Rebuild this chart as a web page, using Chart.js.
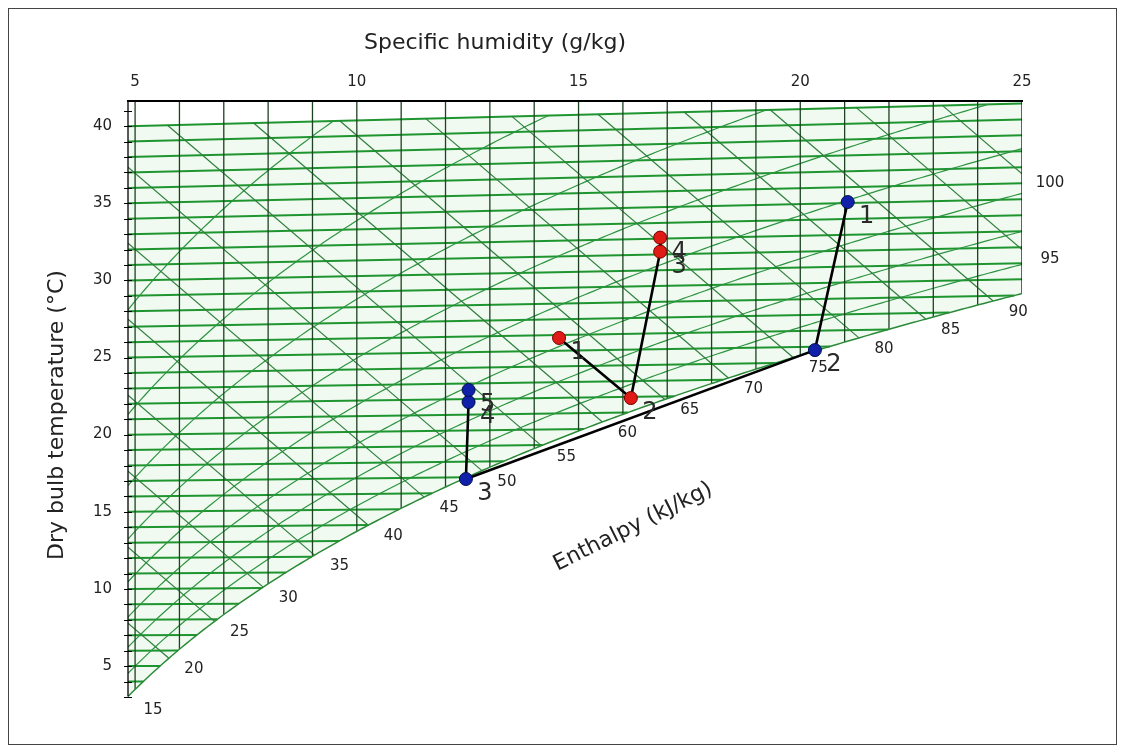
<!DOCTYPE html>
<html>
<head>
<meta charset="utf-8">
<script src="https://cdn.jsdelivr.net/npm/chart.js@4/dist/chart.umd.min.js"></script>
<style>
  html, body { margin: 0; padding: 0; background: #fff; }
  canvas { display: block; }
</style>
</head>
<body>
<canvas id="chart" width="1125" height="753"></canvas>
<script>
// axis ticks
const humidityTicks = [5, 10, 15, 20, 25];
const temperatureTicks = [5, 10, 15, 20, 25, 30, 35, 40];

// chart grid levels
const isothermLevels = [3, 4, 5, 6, 7, 8, 9, 10, 11, 12, 13, 14, 15, 16, 17, 18, 19, 20, 21, 22,
  23, 24, 25, 26, 27, 28, 29, 30, 31, 32, 33, 34, 35, 36, 37, 38, 39, 40];
const humidityLines = [5, 6, 7, 8, 9, 10, 11, 12, 13, 14, 15, 16, 17, 18, 19, 20, 21, 22, 23, 24, 25];
const enthalpyLevels = [15, 20, 25, 30, 35, 40, 45, 50, 55, 60, 65, 70, 75, 80, 85, 90, 95, 100];
const rhLevels = [20, 30, 40, 50, 60, 70, 80, 90];

// process 1 (blue) - humidity g/kg, dry bulb °C
const blueNames = ['1', '2', '3', '4', '5'];
const blueHumidity = [21.07, 20.33, 12.46, 12.52, 12.52];
const blueTemp = [34.07, 24.78, 16.89, 21.81, 22.58];

// process 2 (red)
const redNames = ['1', '2', '3', '4'];
const redHumidity = [14.56, 16.18, 16.84, 16.84];
const redTemp = [25.81, 21.92, 31.18, 32.07];

const W_MIN = 4.84, W_MAX = 25;
const Y_MIN = 2.8, Y_MAX = 41.62;
const T_TOP = 40;
const PRESSURE = 98300; // Pa
const Y_REF = 1.006 + 0.00186 * 5;

function psat(t) { return 610.94 * Math.exp(17.625 * t / (t + 243.04)); }
function tFromPs(ps) { const L = Math.log(ps / 610.94); return 243.04 * L / (17.625 - L); }
function wFromPv(pv) { return 622 * pv / (PRESSURE - pv); }
function pvFromW(w) { return w * PRESSURE / (622 + w); }
function yOf(t, w) { return t * (1.006 + 0.00186 * w) / Y_REF; }   // skewed Mollier ordinate
function yOfH(h, w) { return (h - 2.501 * w) / Y_REF; }
function hOf(t, w) { return 1.006 * t + w * (2.501 + 0.00186 * t); }
function tSat(w) { return tFromPs(pvFromW(w)); }
function hSat(w) { return hOf(tSat(w), w); }

function sampleW(from, to, step) {
  const ws = [];
  for (let w = from; w < to - 1e-6; w += step) ws.push(w);
  ws.push(to);
  return ws;
}

function enthalpyEnd(h) {
  if (hSat(W_MAX) <= h) return W_MAX;
  let lo = W_MIN, hi = W_MAX;
  if (hSat(lo) >= h) return W_MIN;
  for (let i = 0; i < 50; i++) {
    const mid = (lo + hi) / 2;
    if (hSat(mid) < h) lo = mid; else hi = mid;
  }
  return (lo + hi) / 2;
}
function enthalpyStart(h) {
  return Math.max(W_MIN, (h - 1.006 * T_TOP) / (2.501 + 0.00186 * T_TOP));
}

function rhCurve(rh) {
  const phi = rh / 100;
  const wEnd = Math.min(W_MAX, wFromPv(phi * psat(T_TOP)));
  if (wEnd <= W_MIN) return null;
  return sampleW(W_MIN, wEnd, 0.1).map(w => ({ x: w, y: yOf(tFromPs(pvFromW(w) / phi), w) }));
}

const lineDs = (data, color, width, order) => ({
  data, borderColor: color, borderWidth: width, pointRadius: 0,
  fill: false, tension: 0, order
});

const datasets = [];

// 0: saturation curve, 1: top isotherm filled down to it
const satCurve = sampleW(W_MIN, W_MAX, 0.1).map(w => ({ x: w, y: yOf(tSat(w), w) }));
datasets.push(lineDs(satCurve, '#2a8a38', 1.5, 5));
datasets.push({
  data: [{ x: W_MIN, y: yOf(T_TOP, W_MIN) }, { x: W_MAX, y: yOf(T_TOP, W_MAX) }],
  borderWidth: 0, pointRadius: 0, fill: 0, backgroundColor: '#f0faf0', order: 20
});

isothermLevels.forEach(t => {
  const wEnd = Math.min(W_MAX, wFromPv(psat(t)));
  if (wEnd <= W_MIN) return;
  datasets.push(lineDs([{ x: W_MIN, y: yOf(t, W_MIN) }, { x: wEnd, y: yOf(t, wEnd) }], '#1f9530', 2, 8));
});

enthalpyLevels.forEach(h => {
  const w0 = enthalpyStart(h), w1 = enthalpyEnd(h);
  if (w0 >= w1) return;
  datasets.push(lineDs([{ x: w0, y: yOfH(h, w0) }, { x: w1, y: yOfH(h, w1) }], '#2f7f3c', 1.2, 7));
});

rhLevels.forEach(rh => {
  const pts = rhCurve(rh);
  if (pts) datasets.push(lineDs(pts, '#2c9440', 1.2, 7));
});

humidityLines.forEach(w => {
  datasets.push(lineDs([{ x: w, y: yOf(tSat(w), w) }, { x: w, y: Y_MAX }], w === W_MAX ? '#111' : '#1d4222', 1.3, 6));
});

const blueIndex = datasets.length;
datasets.push({
  data: blueHumidity.map((w, i) => ({ x: w, y: yOf(blueTemp[i], w) })),
  borderColor: '#000', borderWidth: 2.6, tension: 0, fill: false,
  pointRadius: 6.5, pointBackgroundColor: '#1020a8', pointBorderColor: '#00104a', pointBorderWidth: 1, order: 0
});
const redIndex = datasets.length;
datasets.push({
  data: redHumidity.map((w, i) => ({ x: w, y: yOf(redTemp[i], w) })),
  borderColor: '#000', borderWidth: 2.6, tension: 0, fill: false,
  pointRadius: 6.5, pointBackgroundColor: '#e01a14', pointBorderColor: '#7a0000', pointBorderWidth: 1, order: 0
});

const FONT = "'DejaVu Sans', Verdana, sans-serif";

const decor = {
  id: 'decor',
  afterDraw(chart) {
    const { ctx, chartArea: a, scales: { x, y } } = chart;
    const px = w => x.getPixelForValue(w);
    const py = v => y.getPixelForValue(v);
    ctx.save();

    // outer frame
    ctx.strokeStyle = '#444';
    ctx.lineWidth = 1;
    ctx.strokeRect(8.5, 8.5, 1108, 736);

    // axes lines
    ctx.strokeStyle = '#000';
    ctx.lineWidth = 2;
    ctx.beginPath();
    ctx.moveTo(a.left - 1, a.top);
    ctx.lineTo(a.right + 1, a.top);
    ctx.stroke();
    ctx.lineWidth = 1.3;
    ctx.beginPath();
    ctx.moveTo(a.left, a.top);
    ctx.lineTo(a.left, py(yOf(tSat(W_MIN), W_MIN)));
    ctx.stroke();

    // minor ticks every degree
    ctx.lineWidth = 1;
    for (let t = 3; t <= 41; t++) {
      const yy = Math.round(py(yOf(t, W_MIN))) + 0.5;
      ctx.beginPath();
      ctx.moveTo(a.left - 4, yy);
      ctx.lineTo(a.left + 4, yy);
      ctx.stroke();
    }

    // enthalpy labels
    ctx.fillStyle = '#222';
    ctx.font = '15px ' + FONT;
    ctx.textAlign = 'center';
    ctx.textBaseline = 'middle';
    enthalpyLevels.forEach(h => {
      const w1 = enthalpyEnd(h);
      const onRight = hSat(W_MAX) <= h;
      const dx = onRight ? 28 : 25, dy = onRight ? 9 : 11;
      ctx.fillText(String(h), px(w1) + dx, py(yOfH(h, w1)) + dy);
    });

    // titles
    ctx.font = '22px ' + FONT;
    ctx.fillText('Specific humidity (g/kg)', 495, 43);
    ctx.save();
    ctx.translate(57, 415);
    ctx.rotate(-Math.PI / 2);
    ctx.fillText('Dry bulb temperature (°C)', 0, 0);
    ctx.restore();
    ctx.save();
    ctx.translate(633, 527);
    ctx.rotate(-26.5 * Math.PI / 180);
    ctx.fillText('Enthalpy (kJ/kg)', 0, 0);
    ctx.restore();

    // point numbers
    ctx.font = '24px ' + FONT;
    ctx.fillStyle = '#2a2a2a';
    [[blueIndex, blueNames], [redIndex, redNames]].forEach(([idx, names]) => {
      chart.getDatasetMeta(idx).data.forEach((pt, i) => {
        ctx.fillText(names[i], pt.x + 19, pt.y + 15);
      });
    });
    ctx.restore();
  }
};

new Chart(document.getElementById('chart'), {
  type: 'line',
  data: { datasets },
  options: {
    responsive: false,
    animation: false,
    devicePixelRatio: 1,
    layout: { padding: { left: 0, top: 0, right: 103, bottom: 53 } },
    plugins: { legend: { display: false }, tooltip: { enabled: false } },
    elements: { line: { borderJoinStyle: 'round' } },
    scales: {
      x: {
        type: 'linear', position: 'top', min: W_MIN, max: W_MAX,
        grid: { display: false, drawTicks: false }, border: { display: false },
        afterBuildTicks: s => { s.ticks = humidityTicks.map(v => ({ value: v })); },
        afterFit: s => { s.height = 101; },
        ticks: { padding: 10, color: '#222', font: { family: FONT, size: 15 }, maxRotation: 0 }
      },
      y: {
        type: 'linear', min: Y_MIN, max: Y_MAX,
        grid: { display: false, drawTicks: false }, border: { display: false },
        afterBuildTicks: s => { s.ticks = temperatureTicks.map(v => ({ value: v })); },
        afterFit: s => { s.width = 128; },
        ticks: { padding: 16, color: '#222', font: { family: FONT, size: 15 } }
      }
    }
  },
  plugins: [decor]
});
</script>
</body>
</html>
